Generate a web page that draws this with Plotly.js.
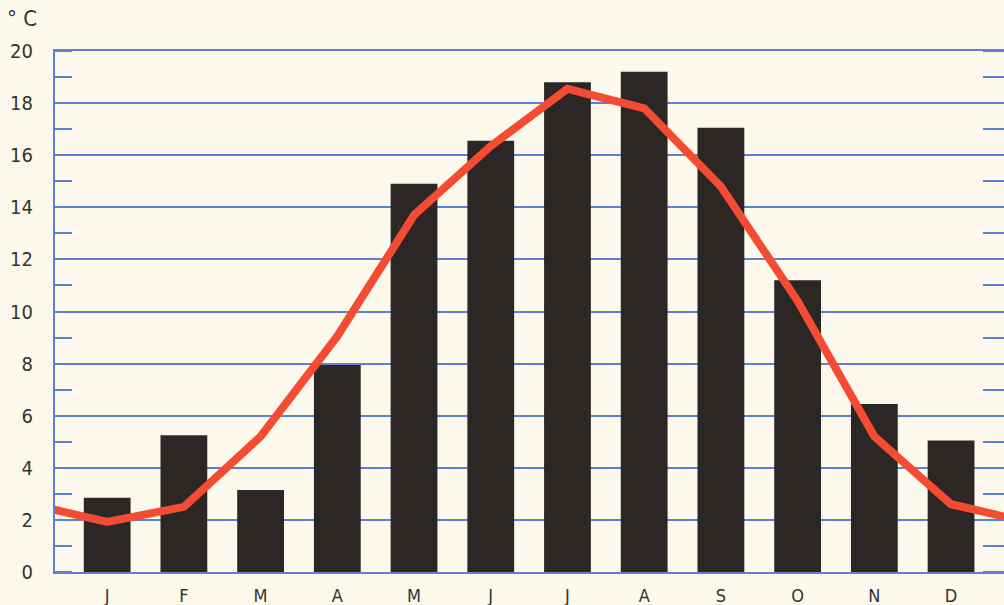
<!DOCTYPE html>
<html>
<head>
<meta charset="utf-8">
<script src="https://cdn.plot.ly/plotly-3.0.1.min.js"></script>
<style>
  html, body { margin: 0; padding: 0; background: #fcf8ec; }
  #chart { width: 1004px; height: 605px; }
</style>
</head>
<body>
<div id="chart"></div>
<script>
// Monthly climate chart: precipitation-style bars and a temperature curve (°C)
const months = ['J', 'F', 'M', 'A', 'M', 'J', 'J', 'A', 'S', 'O', 'N', 'D'];
const barValues = [2.85, 5.25, 3.15, 7.95, 14.9, 16.55, 18.8, 19.2, 17.05, 11.2, 6.45, 5.05];
const curveValues = [1.92, 2.5, 5.2, 9.05, 13.7, 16.35, 18.55, 17.8, 14.8, 10.4, 5.2, 2.6];
const yTickValues = [0, 2, 4, 6, 8, 10, 12, 14, 16, 18, 20];

const monthIndex = months.map((_, i) => i);

// The temperature cycle wraps around the year: previous December before January,
// next January after December; the plot area clips the ends.
const curveX = [-1].concat(monthIndex, [12]);
const curveY = [curveValues[11]].concat(curveValues, [curveValues[0]]);

const blue = '#5f80d2';
const ink = '#353331';
const fontFam = '"DejaVu Sans Condensed", "Liberation Sans Narrow", "DejaVu Sans", sans-serif';

const traces = [
  {
    type: 'bar',
    x: monthIndex,
    y: barValues,
    width: 0.61,
    marker: { color: '#2c2725', line: { width: 0 } },
    hoverinfo: 'skip'
  },
  {
    type: 'scatter',
    mode: 'lines',
    x: curveX,
    y: curveY,
    line: { color: '#f44c33', width: 8, shape: 'linear' },
    hoverinfo: 'skip'
  },
  {
    // invisible companion on the right axis so its minor ticks are drawn
    type: 'scatter',
    mode: 'lines',
    x: [0, 11],
    y: [0, 20],
    yaxis: 'y2',
    line: { width: 0, color: 'rgba(0,0,0,0)' },
    hoverinfo: 'skip'
  }
];

const layout = {
  width: 1004,
  height: 605,
  margin: { l: 55, r: 0, t: 51, b: 33 },
  paper_bgcolor: '#fcf8ec',
  plot_bgcolor: '#fcf8ec',
  showlegend: false,
  font: { family: fontFam, color: ink },
  xaxis: {
    range: [-0.68, 11.69],
    tickvals: monthIndex,
    ticktext: months,
    tickfont: { size: 18, color: ink, family: fontFam },
    showgrid: false,
    zeroline: false,
    showline: true,
    mirror: true,
    linecolor: blue,
    linewidth: 2,
    ticks: '',
    ticklabelstandoff: 6,
    fixedrange: true
  },
  yaxis: {
    range: [0, 20],
    tickvals: yTickValues,
    ticktext: yTickValues.map(String),
    tickfont: { size: 20, color: ink, family: fontFam },
    showgrid: true,
    gridcolor: blue,
    gridwidth: 2,
    zeroline: false,
    showline: true,
    linecolor: blue,
    linewidth: 2,
    ticks: '',
    ticklabelstandoff: 16,
    minor: { dtick: 1, tick0: 0, ticks: 'inside', ticklen: 17, tickcolor: blue, tickwidth: 2, showgrid: false },
    fixedrange: true
  },
  yaxis2: {
    overlaying: 'y',
    side: 'right',
    range: [0, 20],
    tickvals: yTickValues,
    showticklabels: false,
    showgrid: false,
    zeroline: false,
    showline: false,
    ticks: '',
    minor: { dtick: 1, tick0: 0, ticks: 'inside', ticklen: 21, tickcolor: blue, tickwidth: 2, showgrid: false },
    fixedrange: true
  },
  annotations: [
    {
      text: '° C',
      xref: 'paper',
      yref: 'paper',
      x: -0.035,
      y: 1.062,
      xanchor: 'center',
      yanchor: 'middle',
      showarrow: false,
      font: { size: 22, color: ink, family: fontFam }
    }
  ]
};

Plotly.newPlot('chart', traces, layout, { displayModeBar: false, staticPlot: true });
</script>
</body>
</html>
